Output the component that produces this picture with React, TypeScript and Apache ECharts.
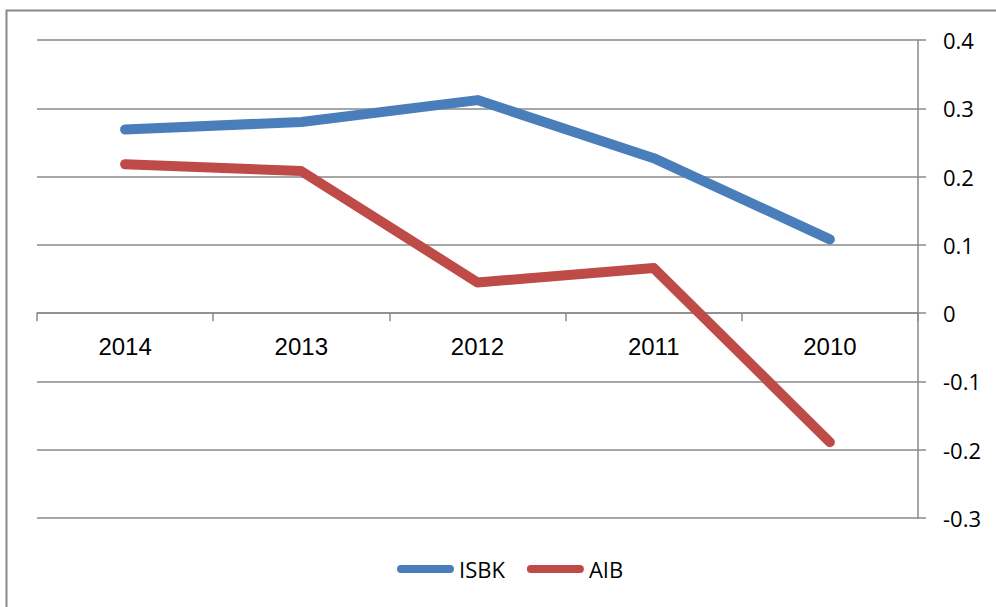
import React, { useEffect, useRef } from "react";
import * as echarts from "echarts";

const categories = ["2014", "2013", "2012", "2011", "2010"];
const isbk = [0.269, 0.28, 0.312, 0.227, 0.108];
const aib = [0.218, 0.208, 0.045, 0.066, -0.189];
const seriesNames = ["ISBK", "AIB"];
const colors = ["#4a7ebb", "#be4b48"];

export default function App() {
  const ref = useRef<HTMLDivElement>(null);
  useEffect(() => {
    document.body.style.margin = "0";
    const chart = echarts.init(ref.current!, null, { renderer: "svg" });
    const capsule = "path://M4,0 H52 A4,4 0 0 1 52,8 H4 A4,4 0 0 1 4,0 Z";
    chart.setOption({
      animation: false,
      backgroundColor: "#ffffff",
      graphic: [
        {
          type: "rect",
          shape: { x: 6.5, y: 10.5, width: 1100, height: 1100 },
          style: { fill: "none", stroke: "#8a8a8a", lineWidth: 2 },
          silent: true,
        },
      ],
      grid: { left: 37, right: 78, top: 40, bottom: 89, containLabel: false },
      legend: {
        bottom: 22,
        left: 392,
        itemWidth: 57,
        itemHeight: 9,
        itemGap: 22,
        data: seriesNames.map((n) => ({ name: n, icon: capsule })),
        textStyle: { fontFamily: "Open Sans", fontSize: 22, color: "#000" },
      },
      xAxis: {
        type: "category",
        data: categories,
        boundaryGap: true,
        axisLine: { onZero: true, lineStyle: { color: "#8a8a8a", width: 1.5 } },
        axisTick: { show: true, length: 8, lineStyle: { color: "#8a8a8a", width: 1.5 } },
        axisLabel: { margin: -184, fontFamily: "Liberation Sans", fontSize: 24, color: "#000" },
        splitLine: { show: false },
      },
      yAxis: {
        type: "value",
        position: "right",
        min: -0.3,
        max: 0.4,
        interval: 0.1,
        axisLine: { show: true, lineStyle: { color: "#8a8a8a", width: 1.5 } },
        axisTick: { show: true, length: 8, lineStyle: { color: "#8a8a8a", width: 1.5 } },
        axisLabel: {
          margin: 25,
          fontFamily: "Open Sans",
          fontSize: 22,
          color: "#000",
          formatter: (v: number) => {
            const r = Math.round(v * 10) / 10;
            return r === 0 ? "0" : String(r);
          },
        },
        splitLine: { show: true, lineStyle: { color: "#8a8a8a", width: 1.5 } },
      },
      series: [
        {
          name: seriesNames[0],
          type: "line",
          data: isbk,
          symbol: "none",
          color: colors[0],
          lineStyle: { width: 10, color: colors[0], cap: "round", join: "round" },
        },
        {
          name: seriesNames[1],
          type: "line",
          data: aib,
          symbol: "none",
          color: colors[1],
          lineStyle: { width: 10, color: colors[1], cap: "round", join: "round" },
        },
      ],
    });
    return () => chart.dispose();
  }, []);
  return <div ref={ref} style={{ width: 996, height: 607 }} />;
}
